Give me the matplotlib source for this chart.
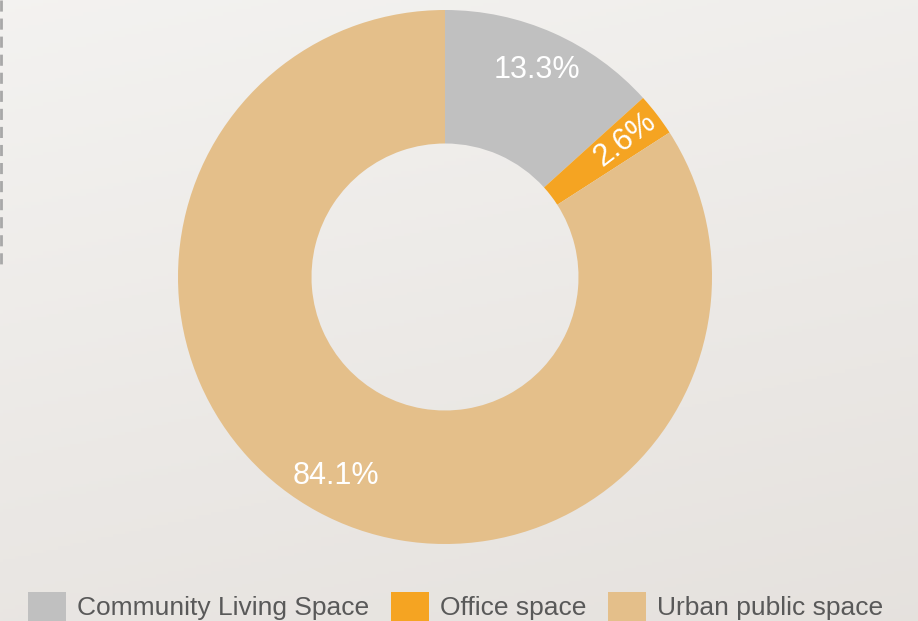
import matplotlib
matplotlib.use("Agg")
import matplotlib.pyplot as plt
import numpy as np
from matplotlib.patches import Rectangle

plt.rcParams['font.family'] = ['Liberation Sans', 'DejaVu Sans']

categories = ['Community Living Space', 'Office space', 'Urban public space']
shares = [13.3, 2.6, 84.1]
colors = ['#c0c0c0', '#f5a422', '#e4bf8a']

W, H = 918, 621
fig = plt.figure(figsize=(W / 100, H / 100), dpi=100)

# soft background gradient
bg = fig.add_axes([0, 0, 1, 1])
yy, xx = np.mgrid[0:1:200j, 0:1:300j]
t = 0.75 * yy + 0.25 * xx
top = np.array([0.955, 0.950, 0.942])
bot = np.array([0.900, 0.885, 0.870])
img = top[None, None, :] * (1 - t[..., None]) + bot[None, None, :] * t[..., None]
bg.imshow(img, extent=[0, 1, 0, 1], aspect='auto', origin='upper')
bg.plot([0.0015, 0.0015], [1, 1 - 265 / H], color='#a8a8a8', lw=2,
        dashes=(4, 2.5))
bg.set_xlim(0, 1)
bg.set_ylim(0, 1)
bg.axis('off')

# donut
cx, cy, r = 445, 277, 267
ax = fig.add_axes([(cx - r) / W, (H - cy - r) / H, 2 * r / W, 2 * r / H])
ax.patch.set_alpha(0)
wedges, _ = ax.pie(shares, colors=colors, startangle=90, counterclock=False,
                   radius=1, wedgeprops=dict(width=0.5, linewidth=0))
for w, v in zip(wedges, shares):
    mid = np.deg2rad((w.theta1 + w.theta2) / 2)
    rot = np.rad2deg(mid) if v < 5 else 0
    ax.text(0.85 * np.cos(mid), 0.85 * np.sin(mid), f'{v}%', color='white',
            fontsize=22, ha='center', va='center', rotation=rot,
            rotation_mode='anchor')
ax.set_xlim(-1, 1)
ax.set_ylim(-1, 1)
ax.axis('off')

# legend along the bottom edge
box_x = [28, 391, 608]
for x0, lab, c in zip(box_x, categories, colors):
    fig.add_artist(Rectangle((x0 / W, (H - 630) / H), 38 / W, 38 / H,
                             transform=fig.transFigure, color=c, lw=0))
    fig.text((x0 + 49) / W, (H - 608) / H, lab, fontsize=19,
             color='#595959', ha='left', va='center')

fig.savefig('out.png', dpi=100)
